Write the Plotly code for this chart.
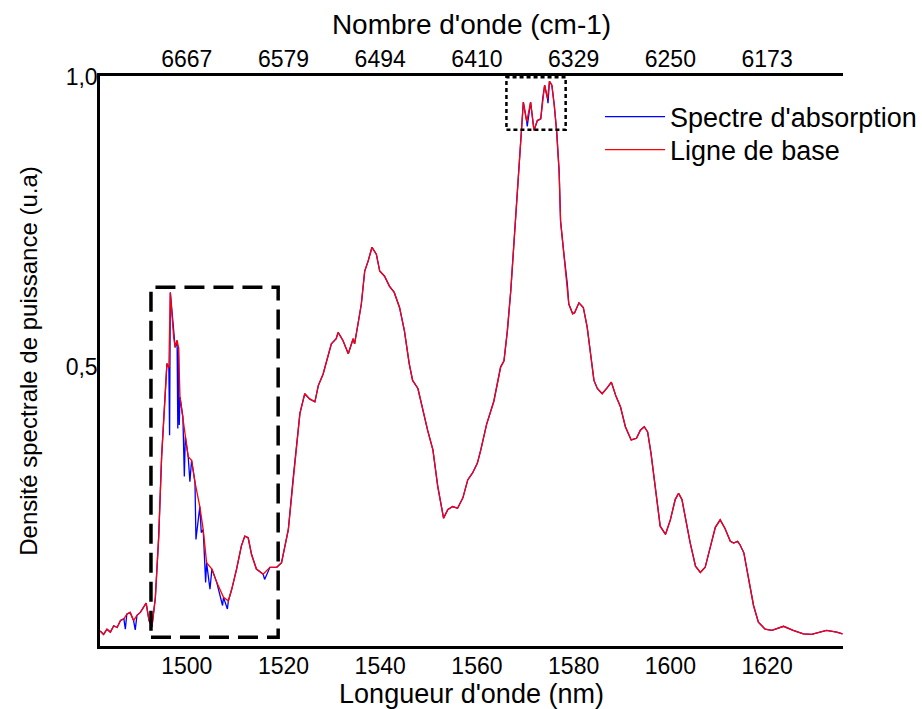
"""
Spectre d'absorption vs ligne de base (densite spectrale de puissance).
Axe du bas en longueur d'onde, axe du haut en nombre d'onde.
"""
import plotly.graph_objects as go

# Ligne de base (rouge) : longueur d'onde (nm) / DSP (u.a)
WL_BASE = [
    1482.1, 1482.8, 1483.5, 1484.2, 1484.9, 1485.6, 1486.3, 1487.0, 1487.6, 1488.3,
    1489.0, 1489.7, 1490.4, 1491.1, 1491.6, 1492.2, 1492.8, 1493.5, 1494.2, 1494.8,
    1495.5, 1495.9, 1496.3, 1496.6, 1497.3, 1497.6, 1498.0, 1498.3, 1498.6, 1499.2,
    1499.7, 1500.3, 1501.0, 1501.7, 1502.7, 1503.4, 1504.1, 1505.2, 1506.2, 1507.6,
    1508.6, 1509.3, 1510.3, 1511.3, 1512.0, 1512.7, 1513.4, 1514.4, 1515.8, 1517.2,
    1518.6, 1519.6, 1521.0, 1522.0, 1522.7, 1523.4, 1524.4, 1525.4, 1526.5, 1527.2,
    1528.2, 1528.9, 1529.9, 1530.9, 1531.3, 1532.3, 1533.4, 1534.4, 1534.7, 1535.4,
    1536.1, 1536.8, 1537.5, 1538.3, 1539.2, 1539.9, 1540.9, 1541.9, 1542.9, 1544.0,
    1545.0, 1546.0, 1546.7, 1547.8, 1548.8, 1549.8, 1550.9, 1551.9, 1553.1, 1554.0,
    1555.0, 1556.0, 1557.1, 1558.1, 1559.1, 1560.1, 1560.8, 1562.0, 1563.5, 1564.5,
    1564.9, 1565.6, 1566.3, 1567.0, 1567.7, 1568.4, 1569.1, 1569.6, 1570.3, 1571.1,
    1571.8, 1572.5, 1573.2, 1573.6, 1574.0, 1574.6, 1575.0, 1575.5, 1576.0, 1576.5,
    1577.0, 1577.3, 1578.0, 1578.7, 1579.0, 1579.8, 1580.2, 1581.1, 1582.0, 1582.8,
    1583.5, 1584.2, 1584.9, 1585.9, 1587.0, 1587.8, 1588.7, 1589.7, 1590.7, 1591.9,
    1593.0, 1593.8, 1594.6, 1595.3, 1596.0, 1596.9, 1597.9, 1599.0, 1600.0, 1601.0,
    1601.7, 1602.4, 1603.3, 1604.1, 1605.2, 1606.2, 1607.2, 1608.2, 1609.3, 1610.3,
    1611.3, 1612.4, 1613.1, 1613.9, 1614.4, 1615.2, 1616.2, 1617.2, 1618.2, 1619.6,
    1621.0, 1623.4, 1625.4, 1627.5, 1629.2, 1632.3, 1634.4, 1635.6,
]
PSD_BASE = [
    0.043, 0.037, 0.046, 0.041, 0.052, 0.049, 0.061, 0.064, 0.072, 0.075,
    0.061, 0.070, 0.075, 0.084, 0.091, 0.061, 0.050, 0.100, 0.206, 0.344,
    0.436, 0.505, 0.498, 0.628, 0.550, 0.533, 0.545, 0.533, 0.447, 0.413,
    0.379, 0.344, 0.338, 0.300, 0.258, 0.218, 0.161, 0.150, 0.127, 0.101,
    0.095, 0.115, 0.150, 0.190, 0.207, 0.204, 0.175, 0.150, 0.141, 0.153,
    0.153, 0.161, 0.218, 0.307, 0.361, 0.419, 0.453, 0.444, 0.439, 0.467,
    0.487, 0.507, 0.539, 0.548, 0.559, 0.545, 0.522, 0.548, 0.539, 0.573,
    0.608, 0.665, 0.682, 0.706, 0.694, 0.665, 0.656, 0.639, 0.628, 0.602,
    0.562, 0.505, 0.476, 0.462, 0.424, 0.390, 0.356, 0.293, 0.238, 0.253,
    0.258, 0.255, 0.273, 0.304, 0.316, 0.333, 0.356, 0.400, 0.440, 0.480,
    0.499, 0.510, 0.562, 0.631, 0.722, 0.814, 0.900, 0.957, 0.923, 0.957,
    0.908, 0.925, 0.928, 0.963, 0.986, 0.963, 0.993, 0.986, 0.951, 0.905,
    0.837, 0.751, 0.694, 0.642, 0.608, 0.591, 0.593, 0.610, 0.602, 0.568,
    0.522, 0.476, 0.462, 0.453, 0.464, 0.473, 0.450, 0.430, 0.396, 0.373,
    0.376, 0.390, 0.396, 0.387, 0.350, 0.293, 0.224, 0.210, 0.235, 0.270,
    0.281, 0.270, 0.230, 0.195, 0.155, 0.144, 0.153, 0.184, 0.222, 0.235,
    0.220, 0.198, 0.195, 0.198, 0.192, 0.178, 0.132, 0.087, 0.058, 0.046,
    0.044, 0.051, 0.044, 0.038, 0.037, 0.044, 0.041, 0.038,
]

# Spectre d'absorption (bleu) : meme trace avec les raies d'absorption en plus
WL_ABS = [
    1482.1, 1482.8, 1483.5, 1484.2, 1484.9, 1485.6, 1486.3, 1487.0, 1487.3, 1487.6,
    1488.3, 1489.0, 1489.35, 1489.7, 1490.4, 1491.1, 1491.6, 1492.2, 1492.8, 1493.5,
    1494.2, 1494.8, 1495.5, 1495.9, 1496.3, 1496.45, 1496.6, 1497.3, 1497.6, 1498.0,
    1498.15, 1498.3, 1498.45, 1498.6, 1499.2, 1499.5, 1499.7, 1500.3, 1500.65, 1501.0,
    1501.7, 1501.9, 1502.7, 1503.0, 1503.4, 1503.9, 1504.1, 1504.8, 1505.2, 1506.2,
    1507.4, 1507.6, 1508.4, 1508.6, 1509.3, 1510.3, 1511.3, 1512.0, 1512.7, 1513.4,
    1514.4, 1515.8, 1516.1, 1517.2, 1518.6, 1519.6, 1521.0, 1522.0, 1522.7, 1523.4,
    1524.4, 1525.4, 1526.5, 1527.2, 1528.2, 1528.9, 1529.9, 1530.9, 1531.3, 1532.3,
    1533.4, 1534.4, 1534.7, 1535.4, 1536.1, 1536.8, 1537.5, 1538.3, 1539.2, 1539.9,
    1540.9, 1541.9, 1542.9, 1544.0, 1545.0, 1546.0, 1546.7, 1547.8, 1548.8, 1549.8,
    1550.9, 1551.9, 1553.1, 1554.0, 1555.0, 1556.0, 1557.1, 1558.1, 1559.1, 1560.1,
    1560.8, 1562.0, 1563.5, 1564.5, 1564.9, 1565.6, 1566.3, 1567.0, 1567.7, 1568.4,
    1569.1, 1569.6, 1570.3, 1570.4, 1571.1, 1571.8, 1572.5, 1573.2, 1573.6, 1574.0,
    1574.6, 1574.7, 1575.0, 1575.5, 1576.0, 1576.5, 1577.0, 1577.3, 1578.0, 1578.7,
    1579.0, 1579.8, 1580.2, 1581.1, 1582.0, 1582.8, 1583.5, 1584.2, 1584.9, 1585.9,
    1587.0, 1587.8, 1588.7, 1589.7, 1590.7, 1591.9, 1593.0, 1593.8, 1594.6, 1595.3,
    1596.0, 1596.9, 1597.9, 1599.0, 1600.0, 1601.0, 1601.7, 1602.4, 1603.3, 1604.1,
    1605.2, 1606.2, 1607.2, 1608.2, 1609.3, 1610.3, 1611.3, 1612.4, 1613.1, 1613.9,
    1614.4, 1615.2, 1616.2, 1617.2, 1618.2, 1619.6, 1621.0, 1623.4, 1625.4, 1627.5,
    1629.2, 1632.3, 1634.4, 1635.6,
]
PSD_ABS = [
    0.043, 0.037, 0.046, 0.041, 0.052, 0.049, 0.061, 0.064, 0.046, 0.072,
    0.075, 0.061, 0.045, 0.070, 0.075, 0.084, 0.091, 0.061, 0.050, 0.100,
    0.206, 0.344, 0.436, 0.505, 0.498, 0.381, 0.628, 0.550, 0.533, 0.545,
    0.393, 0.533, 0.399, 0.447, 0.413, 0.310, 0.379, 0.344, 0.301, 0.338,
    0.300, 0.201, 0.258, 0.213, 0.218, 0.127, 0.161, 0.115, 0.150, 0.127,
    0.087, 0.101, 0.081, 0.095, 0.115, 0.150, 0.190, 0.207, 0.204, 0.175,
    0.150, 0.141, 0.132, 0.153, 0.153, 0.161, 0.218, 0.307, 0.361, 0.419,
    0.453, 0.444, 0.439, 0.467, 0.487, 0.507, 0.539, 0.548, 0.559, 0.545,
    0.522, 0.548, 0.539, 0.573, 0.608, 0.665, 0.682, 0.706, 0.694, 0.665,
    0.656, 0.639, 0.628, 0.602, 0.562, 0.505, 0.476, 0.462, 0.424, 0.390,
    0.356, 0.293, 0.238, 0.253, 0.258, 0.255, 0.273, 0.304, 0.316, 0.333,
    0.356, 0.400, 0.440, 0.480, 0.499, 0.510, 0.562, 0.631, 0.722, 0.814,
    0.900, 0.957, 0.923, 0.915, 0.957, 0.908, 0.925, 0.928, 0.963, 0.986,
    0.963, 0.955, 0.993, 0.986, 0.951, 0.905, 0.837, 0.751, 0.694, 0.642,
    0.608, 0.591, 0.593, 0.610, 0.602, 0.568, 0.522, 0.476, 0.462, 0.453,
    0.464, 0.473, 0.450, 0.430, 0.396, 0.373, 0.376, 0.390, 0.396, 0.387,
    0.350, 0.293, 0.224, 0.210, 0.235, 0.270, 0.281, 0.270, 0.230, 0.195,
    0.155, 0.144, 0.153, 0.184, 0.222, 0.235, 0.220, 0.198, 0.195, 0.198,
    0.192, 0.178, 0.132, 0.087, 0.058, 0.046, 0.044, 0.051, 0.044, 0.038,
    0.037, 0.044, 0.041, 0.038,
]

# Graduations
TICK_NM = [1500, 1520, 1540, 1560, 1580, 1600, 1620]
TICK_CM = ['6667', '6579', '6494', '6410', '6329', '6250', '6173']
TICK_Y = [0.5, 1.0]
TICK_Y_TEXT = ['0,5', '1,0']

# Zones encadrees (nm, u.a)
ZONE_LARGE = (1492.6, 1518.9, 0.032, 0.637)
ZONE_PIC = (1566.1, 1578.35, 0.909, 1.0)

X_RANGE = [1482.06, 1635.7]
Y_RANGE = [0.017, 1.002]

FONT = 'Liberation Sans, Arial, sans-serif'

fig = go.Figure()

# une legende par trace pour placer chaque ligne comme sur l'original
fig.add_trace(go.Scatter(
    x=WL_ABS, y=PSD_ABS,
    mode='lines',
    name="Spectre d'absorption",
    line=dict(color='#0000ff', width=1.3),
    legend='legend',
))
fig.add_trace(go.Scatter(
    x=WL_BASE, y=PSD_BASE,
    mode='lines',
    name='Ligne de base',
    line=dict(color='#ff0000', width=1.3),
    legend='legend2',
))
# trace invisible pour porter l'axe du haut
fig.add_trace(go.Scatter(
    x=WL_BASE, y=PSD_BASE,
    xaxis='x2',
    mode='lines',
    line=dict(width=0),
    opacity=0,
    showlegend=False,
    hoverinfo='skip',
))

# Cadres en pointilles
x0, x1, y0, y1 = ZONE_LARGE
fig.add_shape(type='rect', x0=x0, x1=x1, y0=y0, y1=y1,
              xref='x', yref='y',
              line=dict(color='black', width=3.5, dash='20px,9px'))
x0, x1, y0, y1 = ZONE_PIC
fig.add_shape(type='rect', x0=x0, x1=x1, y0=y0, y1=y1,
              xref='x', yref='y',
              line=dict(color='black', width=2.5, dash='4px,3px'))

legend_style = dict(
    xanchor='left', yanchor='middle',
    bgcolor='rgba(0,0,0,0)',
    font=dict(size=27),
    itemwidth=60,
)

fig.update_layout(
    width=922,
    height=709,
    paper_bgcolor='white',
    plot_bgcolor='white',
    font=dict(family=FONT, size=23, color='black'),
    # marges fixes : la legende colle au bord droit sans pousser le graphe
    margin=dict(l=100, r=79, t=76, b=63, autoexpand=False),
    showlegend=True,
    legend=dict(x=0.673, y=0.928, **legend_style),
    legend2=dict(x=0.673, y=0.870, **legend_style),
    xaxis=dict(
        range=X_RANGE,
        tickvals=TICK_NM,
        showgrid=False, zeroline=False,
        showline=True, linecolor='black', linewidth=3,
        ticks='',
        automargin=False,
        ticklabelstandoff=-3,
        title=dict(text="Longueur d'onde (nm)", font=dict(size=27), standoff=4),
    ),
    xaxis2=dict(
        range=X_RANGE,
        overlaying='x',
        side='top',
        tickvals=TICK_NM,
        ticktext=TICK_CM,
        showgrid=False, zeroline=False,
        showline=True, linecolor='black', linewidth=2.5,
        ticks='',
        automargin=False,
        ticklabelstandoff=-3,
        title=dict(text="Nombre d'onde (cm-1)", font=dict(size=28), standoff=4),
    ),
    yaxis=dict(
        range=Y_RANGE,
        tickvals=TICK_Y,
        ticktext=TICK_Y_TEXT,
        showgrid=False, zeroline=False,
        showline=True, linecolor='black', linewidth=2.5,
        ticks='',
        automargin=False,
        ticklabelstandoff=-5,
        title=dict(text='Densité spectrale de puissance (u.a)', font=dict(size=24), standoff=22),
    ),
)

# la page par defaut ajoute 8 px de marge autour du graphique : on l'enleve
fig.write_html(
    'out.html',
    config={'displayModeBar': False},
    post_script="document.body.style.margin = '0px';",
)
